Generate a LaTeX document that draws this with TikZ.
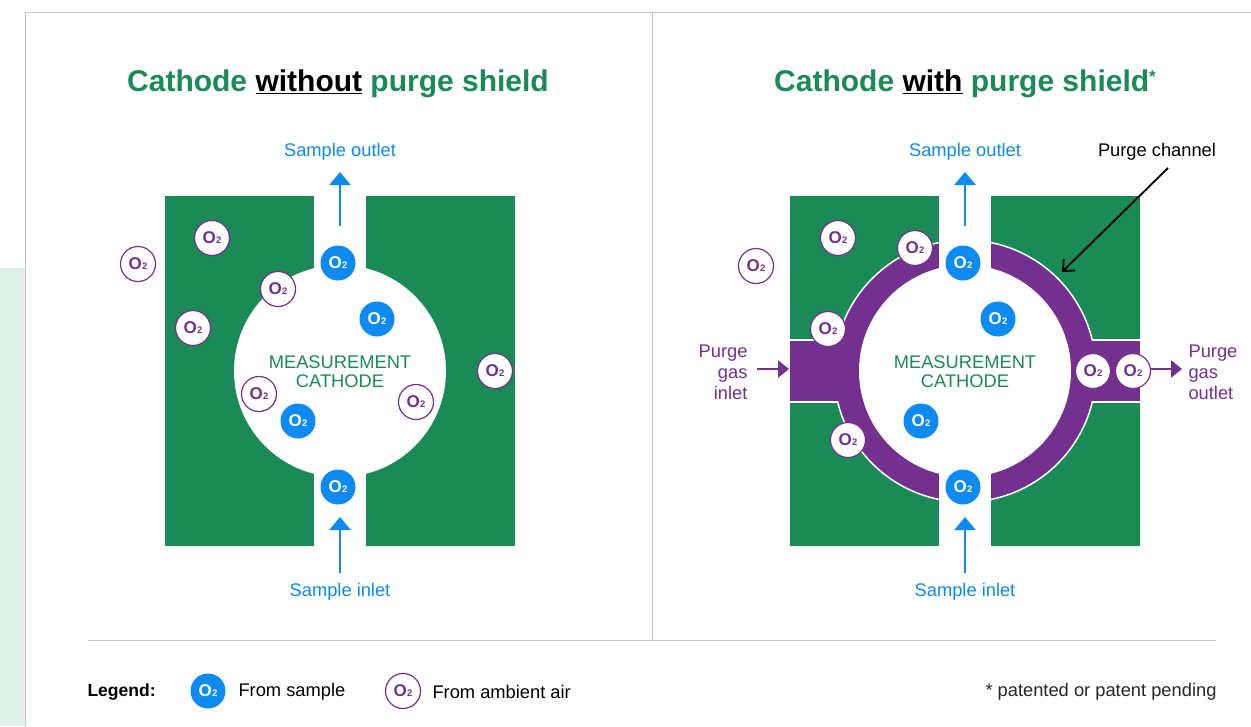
\documentclass[tikz,border=0pt]{standalone}
\usepackage{fontspec}
\setmainfont{Liberation Sans}
\usetikzlibrary{arrows.meta}
\definecolor{cgreen}{HTML}{1A8B56}
\definecolor{cblue}{HTML}{0D8BF2}
\definecolor{cpurple}{HTML}{74308F}
\definecolor{cmint}{HTML}{E0F1EA}
\definecolor{cframe}{HTML}{C4C4C4}
\newcommand\oxy{\bfseries O\kern0.3pt{\fontsize{9.5}{9.5}\selectfont 2}}
\tikzset{
  body/.style={font=\fontsize{18.3}{21}\selectfont},
  title/.style={font=\fontsize{30}{34}\selectfont\bfseries, text=cgreen},
  osample/.style={circle, fill=cblue, text=white, minimum size=35pt, inner sep=0pt, font=\fontsize{17}{17}\selectfont},
  oair/.style={circle, fill=white, draw=cpurple, line width=1.2pt, text=cpurple, minimum size=35pt, inner sep=0pt, font=\fontsize{17}{17}\selectfont},
  flow/.style={draw=cblue, line width=2.6pt, -{Triangle[width=21pt,length=13pt]}},
  purgeflow/.style={draw=cpurple, line width=2.6pt, -{Triangle[width=17pt,length=11pt]}},
  pointer/.style={draw=black, line width=1.8pt, -{Straight Barb[length=9pt,width=16pt,line width=1.8pt]}},
  frame/.style={draw=cframe, line width=1pt},
}
\begin{document}
\begin{tikzpicture}[x=1pt,y=-1pt]
\useasboundingbox (0,0) rectangle (1251,726);
\fill[white] (0,0) rectangle (1251,726);
% side strip and frame
\fill[cmint] (0,268) rectangle (25,726);
\draw[frame] (25,726) -- (25,12) -- (1251,12);
\draw[frame] (652,12) -- (652,640);
\draw[frame] (88,640) -- (1216,640);

% ---------- left: cathode without purge shield ----------
\node[title] (tl) at (338,84) {Cathode {\color{black}\underline{without}} purge shield};
\fill[cgreen] (165,196) rectangle (515,546);
\fill[white] (340,371) circle[radius=106pt];
\fill[white] (314,196) rectangle (366,546);
\node[body, text=cgreen, align=center] (mcl) at (340,372) {MEASUREMENT\\[-2pt]CATHODE};
\node[body, text=cblue] (outl) at (340,151.5) {Sample outlet};
\node[body, text=cblue] (inl) at (340,591.5) {Sample inlet};
\coordinate (outlA) at (340,226);
\coordinate (outlB) at (340,172);
\coordinate (inlA) at (340,573);
\coordinate (inlB) at (340,517);
\draw[flow] (outlA) -- (outlB);
\draw[flow] (inlA) -- (inlB);
\node[oair] (la1) at (138,264) {\oxy};
\node[oair] (la2) at (212,238) {\oxy};
\node[oair] (la3) at (278,289) {\oxy};
\node[oair] (la4) at (193,328) {\oxy};
\node[oair] (la5) at (259,394) {\oxy};
\node[oair] (la6) at (416,402) {\oxy};
\node[oair] (la7) at (495,371) {\oxy};
\node[osample] (ls1) at (338,263) {\oxy};
\node[osample] (ls2) at (377,319) {\oxy};
\node[osample] (ls3) at (298,421) {\oxy};
\node[osample] (ls4) at (338,487) {\oxy};

% ---------- right: cathode with purge shield ----------
\node[title] (tr) at (965,84) {Cathode {\color{black}\underline{with}} purge shield\raisebox{0.32em}{\fontsize{17}{17}\selectfont *}};
\fill[cgreen] (790,196) rectangle (1140,546);
\filldraw[fill=cpurple, draw=white, line width=1.5pt] (790,340) rectangle (1140,402);
\filldraw[fill=cpurple, draw=white, line width=1.5pt] (965,371) circle[radius=131pt];
\fill[cpurple] (790,341.2) rectangle (1140,400.8);
\fill[white] (965,371) circle[radius=106pt];
\fill[white] (939,196) rectangle (991,546);
\node[body, text=cgreen, align=center] (mcr) at (965,372) {MEASUREMENT\\[-2pt]CATHODE};
\node[body, text=cblue] (outr) at (965,151.5) {Sample outlet};
\node[body, text=cblue] (inr) at (965,591.5) {Sample inlet};
\coordinate (outrA) at (965,226);
\coordinate (outrB) at (965,172);
\coordinate (inrA) at (965,573);
\coordinate (inrB) at (965,517);
\draw[flow] (outrA) -- (outrB);
\draw[flow] (inrA) -- (inrB);
\node[body, text=black] (pch) at (1157,151.5) {Purge channel};
\coordinate (pchA) at (1168,168);
\coordinate (pchB) at (1062,272);
\draw[pointer] (pchA) -- (pchB);
\node[body, text=cpurple, align=right, anchor=east] (pgi) at (751,372) {Purge\\gas\\inlet};
\node[body, text=cpurple, align=left, anchor=west] (pgo) at (1185,372) {Purge\\gas\\outlet};
\coordinate (pgiA) at (757,369);
\coordinate (pgiB) at (789,369);
\coordinate (pgoA) at (1150,369);
\coordinate (pgoB) at (1182,369);
\draw[purgeflow] (pgiA) -- (pgiB);
\draw[purgeflow] (pgoA) -- (pgoB);
\node[oair] (ra1) at (756,266) {\oxy};
\node[oair] (ra2) at (838,238) {\oxy};
\node[oair] (ra3) at (915,248) {\oxy};
\node[oair] (ra4) at (828,329) {\oxy};
\node[oair] (ra5) at (848,440) {\oxy};
\node[oair] (ra6) at (1093,371) {\oxy};
\node[oair] (ra7) at (1133,371) {\oxy};
\node[osample] (rs1) at (963,263) {\oxy};
\node[osample] (rs2) at (998,319) {\oxy};
\node[osample] (rs3) at (921,421) {\oxy};
\node[osample] (rs4) at (963,487) {\oxy};

% ---------- legend ----------
\node[body, font=\fontsize{17.5}{21}\selectfont\bfseries, anchor=west] (lg) at (84,692) {Legend:};
\node[osample] (lgs) at (208,691) {\oxy};
\node[body, anchor=west] (lgst) at (235,692) {From sample};
\node[oair] (lga) at (403,691) {\oxy};
\node[body, anchor=west] (lgat) at (429,692) {From ambient air};
\node[body, anchor=east, text=black!85] (pat) at (1220,692) {* patented or patent pending};
\end{tikzpicture}
\end{document}
